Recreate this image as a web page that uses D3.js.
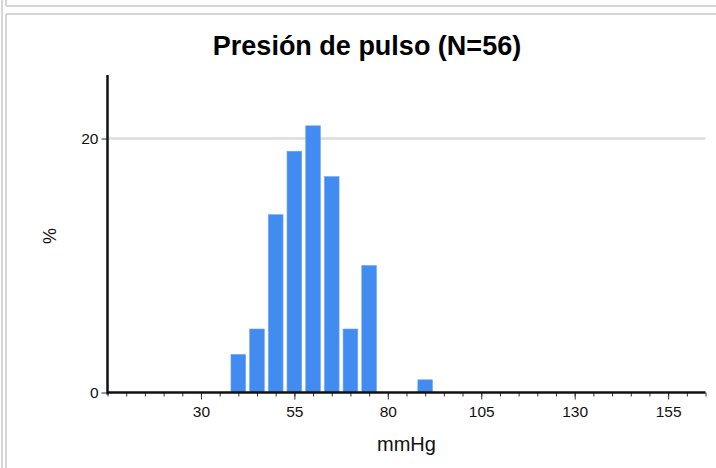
<!DOCTYPE html>
<html><head><meta charset="utf-8">
<script src="https://cdn.jsdelivr.net/npm/d3@7"></script>
<style>body{margin:0;background:#fff;} svg{display:block;font-family:Arial,"Liberation Sans",sans-serif;}</style>
</head><body><svg id="c" width="716" height="468"></svg>
<script>
const binCenters = [40, 45, 50, 55, 60, 65, 70, 75, 90];
const percents = [3, 5, 14, 19, 21, 17, 5, 10, 1];
const xMajorTicks = [30, 55, 80, 105, 130, 155];
const xMinorTicks = d3.range(5, 166, 5);
const yTicks = [0, 20];
const binWidth = 5;
const titleText = "Presión de pulso (N=56)";
const xLabel = "mmHg";
const yLabel = "%";

const svg = d3.select("#c");
const W = 716, H = 468;
svg.append("rect").attr("width", W).attr("height", H).attr("fill", "#fff");

// frame lines
const fc = "#d6d6d6";
svg.append("line").attr("x1", 2).attr("x2", 2).attr("y1", 0).attr("y2", H).attr("stroke", fc).attr("stroke-width", 2);
svg.append("line").attr("x1", 6).attr("x2", 6).attr("y1", 0).attr("y2", 6).attr("stroke", fc).attr("stroke-width", 2);
svg.append("line").attr("x1", 6).attr("x2", 6).attr("y1", 14).attr("y2", H).attr("stroke", fc).attr("stroke-width", 2);
svg.append("line").attr("x1", 6).attr("x2", W).attr("y1", 6).attr("y2", 6).attr("stroke", fc).attr("stroke-width", 2);
svg.append("line").attr("x1", 6).attr("x2", W).attr("y1", 14).attr("y2", 14).attr("stroke", fc).attr("stroke-width", 2);

const x = d3.scaleLinear().domain([5, 165]).range([107.5, 705.5]);
const y = d3.scaleLinear().domain([0, 25]).range([392.5, 75]);

// gridlines
svg.append("g").selectAll("line").data(yTicks.filter(d => d > 0)).join("line")
  .attr("x1", x(5)).attr("x2", x(165))
  .attr("y1", d => y(d)).attr("y2", d => y(d))
  .attr("stroke", "#dcdcdc").attr("stroke-width", 2.5);

// bars
svg.append("g").selectAll("rect").data(binCenters).join("rect")
  .attr("x", (d) => x(d - binWidth / 2) + 2)
  .attr("width", (d) => x(d + binWidth / 2) - x(d - binWidth / 2) - 4)
  .attr("y", (d, i) => y(percents[i]))
  .attr("height", (d, i) => y(0) - y(percents[i]))
  .attr("fill", "#428bf0")
  .attr("stroke", "#6aa5f5").attr("stroke-width", 0.6);

// x minor ticks
const gx = svg.append("g").attr("transform", `translate(0,${y(0)})`);
gx.call(d3.axisBottom(x).tickValues(xMinorTicks).tickSize(4).tickFormat(""))
  .call(g => g.select(".domain").remove())
  .call(g => g.selectAll("line").attr("stroke", "#333"));
const gx2 = svg.append("g").attr("transform", `translate(0,${y(0)})`);
gx2.call(d3.axisBottom(x).tickValues(xMajorTicks).tickSize(7).tickPadding(6))
  .call(g => g.select(".domain").remove())
  .call(g => g.selectAll("line").attr("stroke", "#333"))
  .call(g => g.selectAll("text").attr("font-size", 15.5).attr("fill", "#111").attr("font-family", "Arial, Liberation Sans, sans-serif"));

// y axis ticks
const gy = svg.append("g").attr("transform", `translate(${x(5)},0)`);
gy.call(d3.axisLeft(y).tickValues(yTicks).tickSize(6).tickPadding(3))
  .call(g => g.select(".domain").remove())
  .call(g => g.selectAll("line").attr("stroke", "#333"))
  .call(g => g.selectAll("text").attr("font-size", 15.5).attr("fill", "#111").attr("font-family", "Arial, Liberation Sans, sans-serif"));

// axis lines
svg.append("line").attr("x1", x(5)).attr("x2", x(165)).attr("y1", y(0)).attr("y2", y(0)).attr("stroke", "#111").attr("stroke-width", 2.5);
svg.append("line").attr("x1", x(5)).attr("x2", x(5)).attr("y1", y(25)).attr("y2", y(0) + 2).attr("stroke", "#111").attr("stroke-width", 2.5);

// title
svg.append("text").attr("x", 367).attr("y", 55).attr("text-anchor", "middle")
  .attr("font-size", 27).attr("font-weight", "bold").attr("fill", "#000").text(titleText);
// x label
svg.append("text").attr("x", (x(5) + x(165)) / 2).attr("y", 451).attr("text-anchor", "middle")
  .attr("font-size", 20).attr("fill", "#111").text(xLabel);
// y label
svg.append("text").attr("transform", "translate(56,236) rotate(-90)").attr("text-anchor", "middle")
  .attr("font-size", 18).attr("fill", "#111").text(yLabel);
</script></body></html>
